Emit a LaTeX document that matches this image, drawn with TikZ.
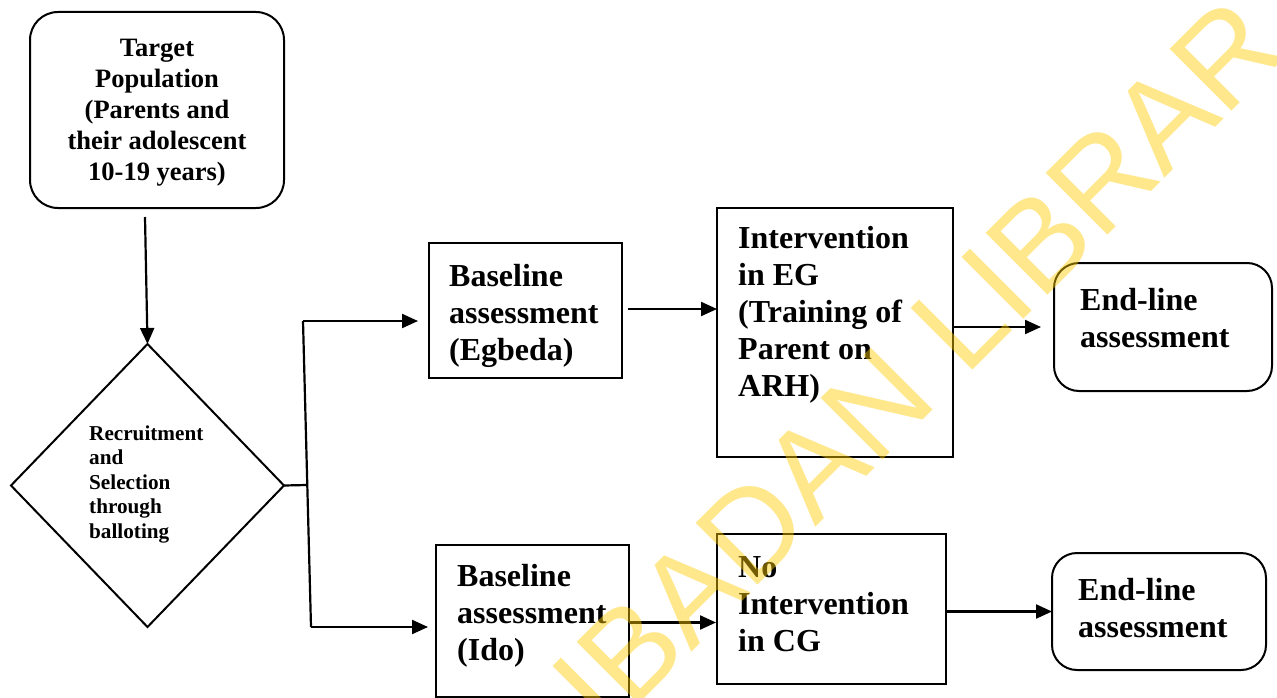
\documentclass[tikz,border=0pt]{standalone}
\usepackage{fontspec}
\setmainfont{Liberation Serif}
\newfontfamily\wmfont{Liberation Sans}
\usetikzlibrary{shapes.geometric,arrows.meta,calc}
\definecolor{wmyellow}{RGB}{255,204,0}
\tikzset{
  boxline/.style={draw=black, line width=2pt, inner sep=0pt, outer sep=0pt},
  sqbox/.style={boxline, rectangle},
  rbox/.style={boxline, rectangle, rounded corners=28pt},
  decision/.style={boxline, diamond},
  bigtxt/.style={font=\fontsize{32}{37}\selectfont\bfseries, align=left, inner sep=0pt, anchor=west},
  tgtxt/.style={font=\fontsize{26.5}{31}\selectfont\bfseries, align=center, inner sep=0pt},
  dtxt/.style={font=\fontsize{21.2}{24.5}\selectfont\bfseries, align=left, inner sep=0pt, anchor=west},
  arr/.style={line width=2.2pt, -{Triangle[length=16pt,width=14pt]}},
  conn/.style={line width=2.2pt},
  watermark/.style={font=\fontsize{127}{127}\selectfont\wmfont, text=wmyellow, text opacity=0.45, inner sep=0pt, rotate=45, anchor=base west}
}
\begin{document}
\begin{tikzpicture}[x=1pt,y=-1pt]
\useasboundingbox (0,0) rectangle (1277,698);
\fill[white] (0,0) rectangle (1277,698);
% shapes
\node[rbox, minimum width=254pt, minimum height=196pt] (tgt) at (157,110) {};
\node[decision, minimum width=273pt, minimum height=283pt] (dia) at (147.5,485.5) {};
\node[sqbox, minimum width=193pt, minimum height=135pt] (b1) at (525.5,310.5) {};
\node[sqbox, minimum width=236pt, minimum height=249pt] (iv) at (835,332.5) {};
\node[rbox, rounded corners=25pt, minimum width=218pt, minimum height=128pt] (e1) at (1163,327) {};
\node[sqbox, minimum width=193pt, minimum height=152pt] (b2) at (532.5,621) {};
\node[sqbox, minimum width=229pt, minimum height=150pt] (nv) at (831.5,609) {};
\node[rbox, rounded corners=25pt, minimum width=214pt, minimum height=117pt] (e2) at (1159,611.5) {};
% texts
\node[tgtxt] (ttgt) at (157,113) {Target\\Population\\(Parents and\\their adolescent\\10-19 years)};
\node[dtxt] (tdia) at (89,484) {Recruitment\\and\\Selection\\through\\balloting};
\node[bigtxt] (tb1) at (449,316) {Baseline\\assessment\\(Egbeda)};
\node[bigtxt] (tiv) at (738,314.5) {Intervention\\in EG\\(Training of\\Parent on\\ARH)};
\node[bigtxt] (te1) at (1080,318.5) {End-line\\assessment};
\node[bigtxt] (tb2) at (457,616) {Baseline\\assessment\\(Ido)};
\node[bigtxt] (tnv) at (738,604) {No\\Intervention\\in CG};
\node[bigtxt] (te2) at (1078,608.5) {End-line\\assessment};
% connectors
\coordinate (a0) at (145,217);
\coordinate (jm) at (307,485);
\coordinate (jt) at (303,321);
\coordinate (jb) at (311,627);
\draw[arr] (a0) -- (dia.north);
\draw[conn] (dia.east) -- (jm);
\draw[conn] (jt) -- (jb);
\draw[arr, shorten >=11pt] (jt) -- (jt -| b1.west);
\draw[arr, shorten >=8pt] (jb) -- (jb -| b2.west);
\draw[arr, shorten <=6pt] ([yshift=1.5pt]b1.east) -- ([yshift=1.5pt]b1.east -| iv.west);
\draw[arr, shorten >=13pt] (iv.east |- e1.west) -- (e1.west);
\draw[arr, shorten >=1pt] ([yshift=-1.5pt]b2.east) -- ([yshift=-1.5pt]b2.east -| nv.west);
\draw[arr] (nv.east |- e2.west) -- (e2.west);
% watermark
\begin{scope}
\clip (0,0) rectangle (1277,698);
\node[watermark] (wm) at (606,737) {IBADAN LIBRARY};
\end{scope}
\end{tikzpicture}
\end{document}
